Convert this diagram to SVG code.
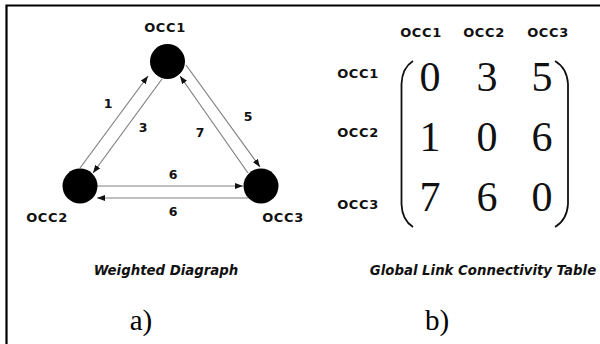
<svg xmlns="http://www.w3.org/2000/svg" width="600" height="344" viewBox="0 0 600 344">
  <style>
    .lbl { font-family: "DejaVu Sans", Verdana, sans-serif; font-weight: bold; font-size: 13px; letter-spacing: 0.6px; fill: #111; text-anchor: middle; }
    .w { font-family: "DejaVu Sans", Verdana, sans-serif; font-weight: bold; font-size: 12.5px; fill: #111; text-anchor: middle; }
    .cap { font-family: "DejaVu Sans", Verdana, sans-serif; font-weight: bold; font-style: italic; font-size: 13.3px; fill: #111; text-anchor: middle; }
    .sub { font-family: "Liberation Serif", "Times New Roman", serif; font-size: 29px; fill: #000; text-anchor: middle; }
    .num { font-family: "Liberation Serif", "Times New Roman", serif; font-size: 42px; fill: #111; text-anchor: middle; }
    .edge { stroke: #808080; stroke-width: 1.2; fill: none; marker-end: url(#arrow); }
    .paren { stroke: #111; stroke-width: 1.8; fill: none; }
  </style>
  <defs>
    <marker id="arrow" markerUnits="userSpaceOnUse" markerWidth="8" markerHeight="6" refX="8" refY="3" orient="auto">
      <path d="M0,0 L8,3 L0,6 Z" fill="#111"/>
    </marker>
  </defs>

  <rect width="600" height="344" fill="#fff"/>
  <!-- frame: top and left rules -->
  <path d="M6.5,344 V5.5 H600" stroke="#000" stroke-width="2.2" fill="none"/>

  <!-- a) weighted digraph -->
  <g id="edges">
    <line class="edge" x1="80" y1="168" x2="148" y2="76"/>
    <line class="edge" x1="162" y1="79" x2="93" y2="173"/>
    <line class="edge" x1="186" y1="65" x2="260" y2="167"/>
    <line class="edge" x1="248" y1="173" x2="180" y2="76"/>
    <line class="edge" x1="97" y1="186" x2="243" y2="186"/>
    <line class="edge" x1="248" y1="198" x2="97" y2="198"/>
    <text class="w" x="108" y="108">1</text>
    <text class="w" x="143" y="132">3</text>
    <text class="w" x="248" y="121">5</text>
    <text class="w" x="200" y="137">7</text>
    <text class="w" x="173" y="179">6</text>
    <text class="w" x="173" y="216">6</text>
  </g>

  <g id="occ1">
    <circle cx="167.5" cy="61.5" r="17.5" fill="#000"/>
    <text class="lbl" x="165" y="32">OCC1</text>
  </g>
  <g id="occ2">
    <circle cx="80" cy="186" r="17.5" fill="#000"/>
    <text class="lbl" x="47" y="222">OCC2</text>
  </g>
  <g id="occ3">
    <circle cx="261" cy="186" r="17.5" fill="#000"/>
    <text class="lbl" x="283" y="222">OCC3</text>
  </g>

  <text class="cap" x="166" y="275">Weighted Diagraph</text>
  <text class="sub" x="141" y="330">a)</text>

  <!-- b) connectivity matrix -->
  <g id="matrix">
    <text class="lbl" x="421" y="37">OCC1</text>
    <text class="lbl" x="484" y="37">OCC2</text>
    <text class="lbl" x="548" y="37">OCC3</text>

    <text class="lbl" x="358" y="78">OCC1</text>
    <text class="lbl" x="358" y="137">OCC2</text>
    <text class="lbl" x="358" y="209">OCC3</text>

    <path class="paren" d="M413,61 Q402,68 401.5,84 V204 Q402,220 413,227"/>
    <path class="paren" d="M555,61 Q567,68 568,84 V204 Q567,220 555,227"/>

    <text class="num" x="430" y="91">0</text>
    <text class="num" x="487" y="91">3</text>
    <text class="num" x="542" y="91">5</text>
    <text class="num" x="430" y="151">1</text>
    <text class="num" x="487" y="151">0</text>
    <text class="num" x="542" y="151">6</text>
    <text class="num" x="430" y="211">7</text>
    <text class="num" x="487" y="211">6</text>
    <text class="num" x="542" y="211">0</text>
  </g>

  <text class="cap" x="483" y="275">Global Link Connectivity Table</text>
  <text class="sub" x="437" y="330">b)</text>
</svg>
